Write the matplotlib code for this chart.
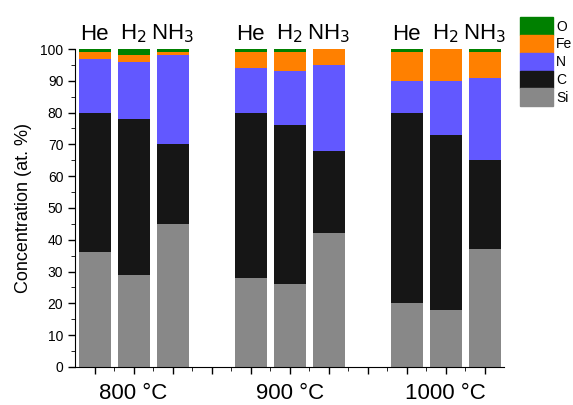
import numpy as np
import matplotlib
matplotlib.use("Agg")
import matplotlib.pyplot as plt
from matplotlib.patches import Patch
from matplotlib.transforms import blended_transform_factory

plt.rcParams['font.family'] = ['Liberation Sans', 'DejaVu Sans']

# bar slots (gaps at 4 and 8 separate temperatures)
slots = [1, 2, 3, 5, 6, 7, 9, 10, 11]
gases = ["He", "H$_2$", "NH$_3$"] * 3
temps = ["800 °C", "900 °C", "1000 °C"]
temp_slots = [2, 6, 10]

elements = ["Si", "C", "N", "Fe", "O"]
si = [36, 29, 45, 28, 26, 42, 20, 18, 37]
c = [44, 49, 25, 52, 50, 26, 60, 55, 28]
n = [17, 18, 28, 14, 17, 27, 10, 17, 26]
fe = [2, 2, 1, 5, 6, 5, 9, 10, 8]
o = [1, 2, 1, 1, 1, 0, 1, 0, 1]
colors = ["#888888", "#161616", "#6258FF", "#FF8000", "#008000"]

fig = plt.figure(figsize=(5.73, 4.05), dpi=100)
ax = fig.add_axes([0.131, 0.094, 0.749, 0.785])

bottom = np.zeros(len(slots))
for vals, col in zip([si, c, n, fe, o], colors):
    ax.bar(slots, vals, width=0.82, bottom=bottom, color=col, linewidth=0)
    bottom += np.array(vals)

ax.set_xlim(0.5, 11.5)
ax.set_ylim(0, 100)
ax.spines['top'].set_visible(False)
ax.spines['right'].set_visible(False)
ax.set_yticks(np.arange(0, 101, 10))
ax.set_yticks(np.arange(0, 101, 5), minor=True)
ax.set_xticks(np.arange(1, 12))
ax.set_xticks(np.arange(1.5, 11, 1), minor=True)
ax.set_xticklabels([])
ax.tick_params(axis='y', labelsize=10, length=5, width=1)
ax.tick_params(axis='y', which='minor', length=3)
ax.tick_params(axis='x', length=5, width=1)
ax.tick_params(axis='x', which='minor', length=3)
ax.set_ylabel("Concentration (at. %)", fontsize=13, labelpad=6)

for s, g in zip(slots, gases):
    ax.text(s, 101.3, g, ha='center', va='bottom', fontsize=16, clip_on=False)

trans = blended_transform_factory(ax.transData, ax.transAxes)
for s, t in zip(temp_slots, temps):
    ax.text(s, -0.085, t, ha='center', va='center', fontsize=16, transform=trans)

handles = [Patch(color=col, label=el) for el, col in zip(elements, colors)][::-1]
fig.legend(handles=handles, loc='upper left', bbox_to_anchor=(0.895, 0.975),
           frameon=False, fontsize=10, handlelength=2.4, handleheight=1.6,
           labelspacing=0.0, handletextpad=0.2, borderpad=0)

fig.savefig("out.png", dpi=100)
